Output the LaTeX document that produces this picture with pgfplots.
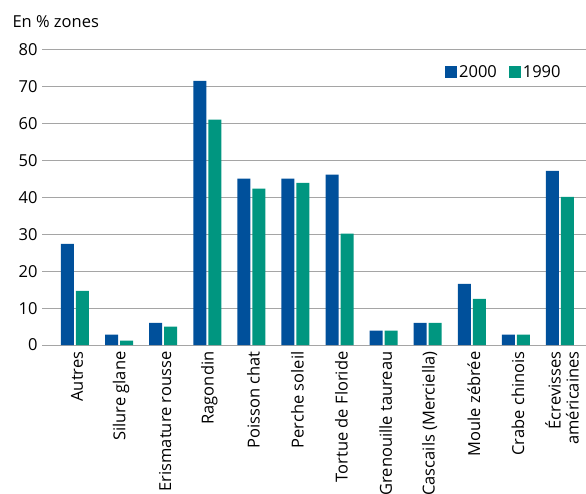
\documentclass[border=0pt]{standalone}
\usepackage{fontspec}
\setmainfont{Open Sans}
\usepackage{pgfplots}
\pgfplotsset{compat=1.18}
\definecolor{cblue}{RGB}{0,80,155}
\definecolor{cgreen}{RGB}{0,150,128}
\definecolor{cgrid}{RGB}{165,165,165}
\pgfplotsset{sqleg/.style={legend image code/.code={\fill[##1,draw=none] (0bp,-6bp) rectangle (12bp,6bp);}}}
\begin{document}
\begin{tikzpicture}[font=\fontsize{16.5bp}{18bp}\selectfont]
\begin{axis}[
  scale only axis, width=544bp, height=295bp,
  xmin=-0.748, xmax=11.59, ymin=0, ymax=80,
  ybar=2bp, bar width=13bp,
  ytick={0,10,...,80},
  xtick={0,...,11},
  xticklabels={Autres, Silure glane, Erismature rousse, Ragondin, Poisson chat, Perche soleil, Tortue de Floride, Grenouille taureau, Cascails (Merciella), Moule zébrée, Crabe chinois, {Écrevisses\\américaines}},
  xticklabel style={rotate=90, anchor=east, align=right, yshift=-2bp, xshift=-3bp},
  yticklabel style={xshift=-1bp},
  /pgf/number format/assume math mode=true,
  axis line style={draw=none},
  major tick length=0pt,
  ymajorgrids, grid style={cgrid, line width=1bp},
  legend style={at={(0.849,0.925)}, anchor=center, draw=none, fill=none, legend columns=2,
    /tikz/every even column/.append style={column sep=10bp}},
]
\addplot[fill=cblue, draw=none, sqleg] coordinates {(0,27.4) (1,2.8) (2,6.0) (3,71.6) (4,45.1) (5,45.1) (6,46.2) (7,3.9) (8,6.0) (9,16.6) (10,2.8) (11,47.2)};
\addplot[fill=cgreen, draw=none, sqleg] coordinates {(0,14.7) (1,1.2) (2,5.0) (3,61.1) (4,42.4) (5,44.0) (6,30.2) (7,3.9) (8,6.0) (9,12.5) (10,2.8) (11,40.2)};
\legend{2000,1990}
\coordinate (O) at (rel axis cs:0,0);
\coordinate (T) at (rel axis cs:1,1);
\end{axis}
\node[anchor=west] at ([shift={(-33bp,28bp)}]O |- T) {En \% zones};
\pgfresetboundingbox
\path ([shift={(-42bp,-149bp)}]O) rectangle ([shift={(0bp,50bp)}]T);
\end{tikzpicture}
\end{document}
